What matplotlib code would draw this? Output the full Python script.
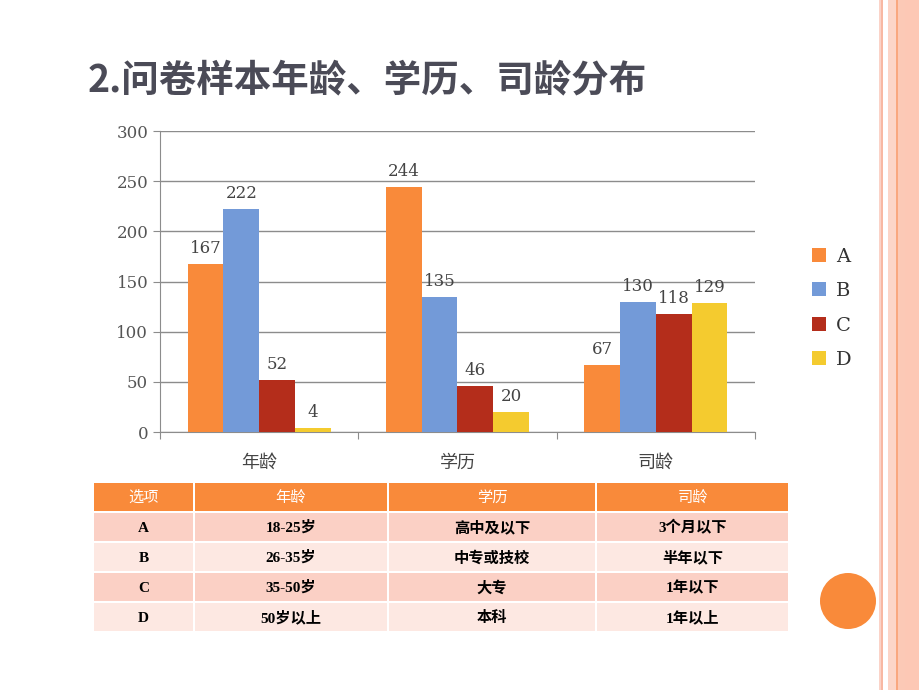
import matplotlib.pyplot as plt
from matplotlib.patches import Rectangle, Circle
import numpy as np

plt.rcParams['font.family'] = ['Noto Sans CJK SC', 'DejaVu Sans']

# chart data
groups = ['年龄', '学历', '司龄']
series = ['A', 'B', 'C', 'D']
values_a = [167, 244, 67]
values_b = [222, 135, 130]
values_c = [52, 46, 118]
values_d = [4, 20, 129]
values = [values_a, values_b, values_c, values_d]
colors = ['#f98a3a', '#739ad8', '#b42d1b', '#f4cb2f']

# table data
table_header = ['选项', '年龄', '学历', '司龄']
table_rows = [
    ['A', '18-25岁', '高中及以下', '3个月以下'],
    ['B', '26-35岁', '中专或技校', '半年以下'],
    ['C', '35-50岁', '大专', '1年以下'],
    ['D', '50岁以上', '本科', '1年以上'],
]

W, H = 920, 690
fig = plt.figure(figsize=(W / 100, H / 100), dpi=100)
fig.patch.set_facecolor('white')

# background layer in pixel coordinates
bg = fig.add_axes([0, 0, 1, 1])
bg.set_xlim(0, W)
bg.set_ylim(H, 0)
bg.axis('off')

# right decorative stripes
stripes = [(879, 2, '#fbd3c8'), (881, 2, '#f8b8a3'), (888, 8, '#fcd5c8'),
           (896, 2, '#f9a77f'), (898, 7, '#fcc9b6'), (905, 15, '#fdc8b5')]
for x0, w, c in stripes:
    bg.add_patch(Rectangle((x0, 0), w, H, color=c, lw=0))

bg.add_patch(Circle((848, 601), 28, color='#f98a3a', lw=0))

bg.text(88, 80, '2.问卷样本年龄、学历、司龄分布', fontsize=27, fontweight='bold',
        color='#4b4b57', va='center', ha='left')

# table
col_x = [94, 195, 389, 597, 790]
row_y = [483, 513, 543, 573, 603, 633]
row_colors = ['#f98a3a', '#fbd0c5', '#fde8e2', '#fbd0c5', '#fde8e2']
all_rows = [table_header] + table_rows
for r, row in enumerate(all_rows):
    for c, txt in enumerate(row):
        x0, x1 = col_x[c], col_x[c + 1] - 2
        y0, y1 = row_y[r], row_y[r + 1] - 2
        bg.add_patch(Rectangle((x0, y0), x1 - x0, y1 - y0, color=row_colors[r], lw=0))
        if r == 0:
            bg.text((x0 + x1) / 2, (y0 + y1) / 2, txt, color='white', fontsize=11,
                    ha='center', va='center')
        else:
            bg.text((x0 + x1) / 2, (y0 + y1) / 2 + 1, txt, color='black', fontsize=11,
                    fontweight='bold', ha='center', va='center',
                    family=['Liberation Serif', 'Noto Sans CJK SC'])

# bar chart
ax = fig.add_axes([160 / W, 1 - 432 / H, 595 / W, 301 / H])
x = np.arange(len(groups))
bw = 0.18
for i, s in enumerate(series):
    pos = x + (i - 1.5) * bw
    ax.bar(pos, values[i], bw, color=colors[i], label=s, zorder=3)
    for p, v in zip(pos, values[i]):
        ax.text(p, v + 7, str(v), ha='center', va='bottom', fontsize=12,
                color='#444444', family='DejaVu Serif')

ax.set_xlim(-0.5, 2.5)
ax.set_ylim(0, 300)
ax.set_yticks(range(0, 301, 50))
ax.yaxis.grid(True, color='#8c8c8c', lw=1, zorder=0)
ax.set_xticks([-0.5, 0.5, 1.5, 2.5])
ax.set_xticklabels([])
ax.tick_params(axis='x', length=5, color='#8c8c8c', direction='out')
ax.tick_params(axis='y', length=5, color='#8c8c8c', labelsize=12, labelcolor='#555555')
for lbl in ax.get_yticklabels():
    lbl.set_family('DejaVu Serif')
for g, name in zip(x, groups):
    ax.text(g, -31, name, ha='center', va='center', fontsize=13, color='#444444')
for side in ['top', 'right']:
    ax.spines[side].set_visible(False)
ax.spines['left'].set_color('#8c8c8c')
ax.spines['bottom'].set_color('#8c8c8c')

leg = fig.legend(loc='upper left', bbox_to_anchor=(795 / W, 1 - 230 / H), frameon=False,
                 prop={'family': 'DejaVu Serif', 'size': 14}, handlelength=0.7,
                 handleheight=0.7, handletextpad=0.5, labelspacing=0.85)
for t in leg.get_texts():
    t.set_color('#333333')

fig.savefig('out.png', dpi=100)
